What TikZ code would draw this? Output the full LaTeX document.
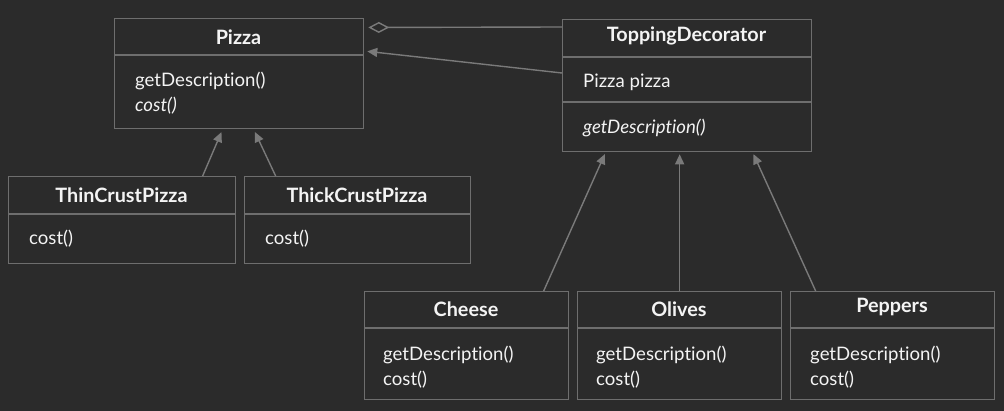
\documentclass[tikz,border=0pt]{standalone}
\usepackage{fontspec}
\setmainfont[RawFeature=-liga]{Lato}
\usetikzlibrary{arrows.meta}
\definecolor{bg}{HTML}{2B2B2B}
\definecolor{edge}{HTML}{6E6E6E}
\definecolor{conn}{HTML}{7A7A7A}
\definecolor{txt}{HTML}{F4F4F4}
\tikzset{
  box/.style={draw=edge, line width=1.3pt, inner sep=0pt, anchor=north west},
  divider/.style={draw=edge, line width=1.3pt},
  title/.style={text=txt, font=\fontsize{19.8}{22}\selectfont\bfseries, inner sep=0pt},
  member/.style={text=txt, font=\fontsize{18.6}{21}\selectfont, inner sep=0pt, anchor=west, yshift=-2pt},
  inherit/.style={draw=conn, line width=1.4pt, -{Triangle[length=10pt,width=9pt]}},
  aggr/.style={draw=conn, line width=1.4pt, {Diamond[open,length=21pt,width=11pt,line width=1.4pt]}-},
}
\begin{document}
\begin{tikzpicture}[x=1pt,y=-1pt]
\useasboundingbox[fill=bg] (0,0) rectangle (1004,411);

% Pizza
\node[box, minimum width=249pt, minimum height=110pt] (pizza) at (114,18) {};
\draw[divider] (114,55) -- (363,55);
\node[title] (pizzat) at (238.5,37) {Pizza};
\node[member] (pizzam1) at (135,79) {getDescription()};
\node[member] (pizzam2) at (135,104) {\itshape cost()};

% ToppingDecorator
\node[box, minimum width=249pt, minimum height=132pt] (td) at (562,19) {};
\draw[divider] (562,57) -- (811,57);
\draw[divider] (562,102) -- (811,102);
\node[title] (tdt) at (686.5,36) {ToppingDecorator};
\node[member] (tdm1) at (583,80) {Pizza pizza};
\node[member] (tdm2) at (583,126) {\itshape getDescription()};

% ThinCrustPizza
\node[box, minimum width=227pt, minimum height=87pt] (thin) at (8,176) {};
\draw[divider] (8,214) -- (235,214);
\node[title] (thint) at (121.5,195) {ThinCrustPizza};
\node[member] (thinm1) at (29,237) {cost()};

% ThickCrustPizza
\node[box, minimum width=226pt, minimum height=87pt] (thick) at (244,176) {};
\draw[divider] (244,214) -- (470,214);
\node[title] (thickt) at (357,195) {ThickCrustPizza};
\node[member] (thickm1) at (265,237) {cost()};

% Cheese
\node[box, minimum width=204pt, minimum height=108pt] (cheese) at (364,291) {};
\draw[divider] (364,328) -- (568,328);
\node[title] (cheeset) at (466,309) {Cheese};
\node[member] (cheesem1) at (383,353) {getDescription()};
\node[member] (cheesem2) at (383,378) {cost()};

% Olives
\node[box, minimum width=204pt, minimum height=108pt] (olives) at (577,291) {};
\draw[divider] (577,328) -- (781,328);
\node[title] (olivest) at (679,309) {Olives};
\node[member] (olivesm1) at (596,353) {getDescription()};
\node[member] (olivesm2) at (596,378) {cost()};

% Peppers
\node[box, minimum width=204pt, minimum height=108pt] (peppers) at (790,291) {};
\draw[divider] (790,328) -- (994,328);
\node[title] (pepperst) at (892,307) {Peppers};
\node[member] (peppersm1) at (810,353) {getDescription()};
\node[member] (peppersm2) at (810,378) {cost()};

% Connectors
\draw[aggr, shorten <=4pt] ([yshift=-9.5pt]pizza.north east) -- ([yshift=-8pt]td.north west);
\draw[inherit, shorten >=3pt] ([yshift=-54pt]td.north west) -- ([yshift=-33pt]pizza.north east);
\draw[inherit, shorten >=3pt] ([xshift=80.5pt]thin.north) -- ([xshift=-16.5pt]pizza.south);
\draw[inherit, shorten >=3pt] ([xshift=-82pt]thick.north) -- ([xshift=14.5pt]pizza.south);
\draw[inherit, shorten >=2pt] ([xshift=77pt]cheese.north) -- ([xshift=-81.5pt]td.south);
\draw[inherit, shorten >=2pt] (olives.north) -- ([xshift=-7.5pt]td.south);
\draw[inherit, shorten >=2pt] ([xshift=-77pt]peppers.north) -- ([xshift=65.5pt]td.south);
\end{tikzpicture}
\end{document}
